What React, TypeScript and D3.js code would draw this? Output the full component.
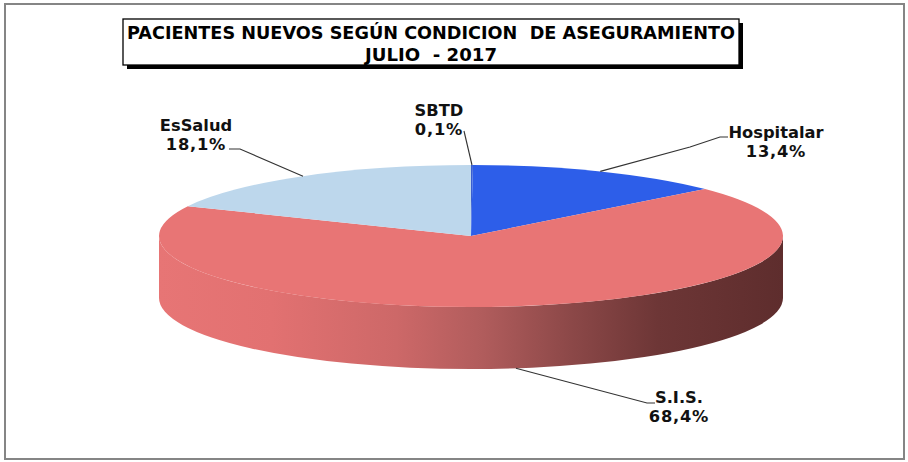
import React from "react";
import * as d3 from "d3";

// ---- data ----
const categories = ["SBTD", "Hospitalar", "S.I.S.", "EsSalud"];
const values = [0.1, 13.4, 68.4, 18.1];
const percentLabels = ["0,1%", "13,4%", "68,4%", "18,1%"];
const titleLines = ["PACIENTES NUEVOS SEGÚN CONDICION  DE ASEGURAMIENTO", "JULIO  - 2017"];

// ---- styles / layout ----
const sliceColors = ["#3a5fd0", "#2d5ee9", "#e87575", "#bdd7ec"];
const W = 908;
const H = 462;
const cx = 471;
const cy = 236;
const rx = 312;
const ry = 71;
const depth = 62;
const font = "'DejaVu Sans', Verdana, sans-serif";

// label text centre x / first-line baseline, and leader-line elbow points
const labelLayout = [
  { x: 439, y: 116, elbow: [[464, 131]] },
  { x: 776, y: 138, elbow: [[690, 147], [720, 137], [728, 137]] },
  { x: 679, y: 403, elbow: [[647, 403], [655, 403]], bottom: true },
  { x: 196, y: 131, elbow: [[240, 149], [229, 149]] },
];

const pt = (a: number, dy = 0): [number, number] => [cx + rx * Math.sin(a), cy - ry * Math.cos(a) + dy];

export default function App() {
  const arcs = d3.pie<number>().sort(null).value((d) => d)(values);

  const slicePath = (a0: number, a1: number) => {
    const p0 = pt(a0);
    const p1 = pt(a1);
    const large = a1 - a0 > Math.PI ? 1 : 0;
    return `M${cx},${cy}L${p0[0]},${p0[1]}A${rx},${ry} 0 ${large} 1 ${p1[0]},${p1[1]}Z`;
  };

  const sidePath = `M${cx + rx},${cy}A${rx},${ry} 0 0 1 ${cx - rx},${cy}L${cx - rx},${cy + depth}A${rx},${ry} 0 0 0 ${cx + rx},${cy + depth}Z`;

  const line = d3.line();

  return (
    <svg width={W} height={H} style={{ position: "absolute", left: 0, top: 0, background: "#fff" }}>
      <defs>
        <linearGradient id="side" gradientUnits="userSpaceOnUse" x1={cx - rx} x2={cx + rx} y1={0} y2={0}>
          <stop offset="0%" stopColor="#e77575" />
          <stop offset="18%" stopColor="#e27171" />
          <stop offset="38%" stopColor="#cd6868" />
          <stop offset="52%" stopColor="#b05c5c" />
          <stop offset="66%" stopColor="#8c4848" />
          <stop offset="80%" stopColor="#6d3636" />
          <stop offset="100%" stopColor="#5e2d2d" />
        </linearGradient>
      </defs>
      <rect x={5} y={4} width={899} height={455} fill="#fff" stroke="#858585" strokeWidth={2} />

      {/* title box */}
      <rect x={127} y={23} width={616} height={46} fill="#000" />
      <rect x={123} y={19} width={616} height={46} fill="#fff" stroke="#000" strokeWidth={1.3} />
      <text x={431} y={38.5} textAnchor="middle" fontFamily={font} fontWeight="bold" fontSize={17.2}
        textLength={608} lengthAdjust="spacingAndGlyphs" xmlSpace="preserve" style={{ whiteSpace: "pre" }}>
        {titleLines[0]}
      </text>
      <text x={431} y={60.5} textAnchor="middle" fontFamily={font} fontWeight="bold" fontSize={17.2}
        textLength={132} lengthAdjust="spacingAndGlyphs" xmlSpace="preserve" style={{ whiteSpace: "pre" }}>
        {titleLines[1]}
      </text>

      {/* pie side */}
      <path d={sidePath} fill="url(#side)" />

      {/* top face */}
      {arcs.map((a, i) => (
        <path key={categories[i]} d={slicePath(a.startAngle, a.endAngle)} fill={sliceColors[i]} />
      ))}

      {/* leader lines + labels */}
      {arcs.map((a, i) => {
        const lay = labelLayout[i];
        const mid = (a.startAngle + a.endAngle) / 2;
        const anchor = pt(mid, lay.bottom ? depth : 0);
        const pts = [anchor, ...lay.elbow] as [number, number][];
        return (
          <g key={"l" + i}>
            <path d={line(pts) || ""} fill="none" stroke="#333" strokeWidth={1.1} />
            <text x={lay.x} y={lay.y} textAnchor="middle" fontFamily={font} fontWeight="bold" fontSize={16.3} fill="#111">
              {categories[i]}
            </text>
            <text x={lay.x} y={lay.y + 18.5} textAnchor="middle" fontFamily={font} fontWeight="bold" fontSize={16.3}
              letterSpacing={0.8} fill="#111">
              {percentLabels[i]}
            </text>
          </g>
        );
      })}
    </svg>
  );
}
